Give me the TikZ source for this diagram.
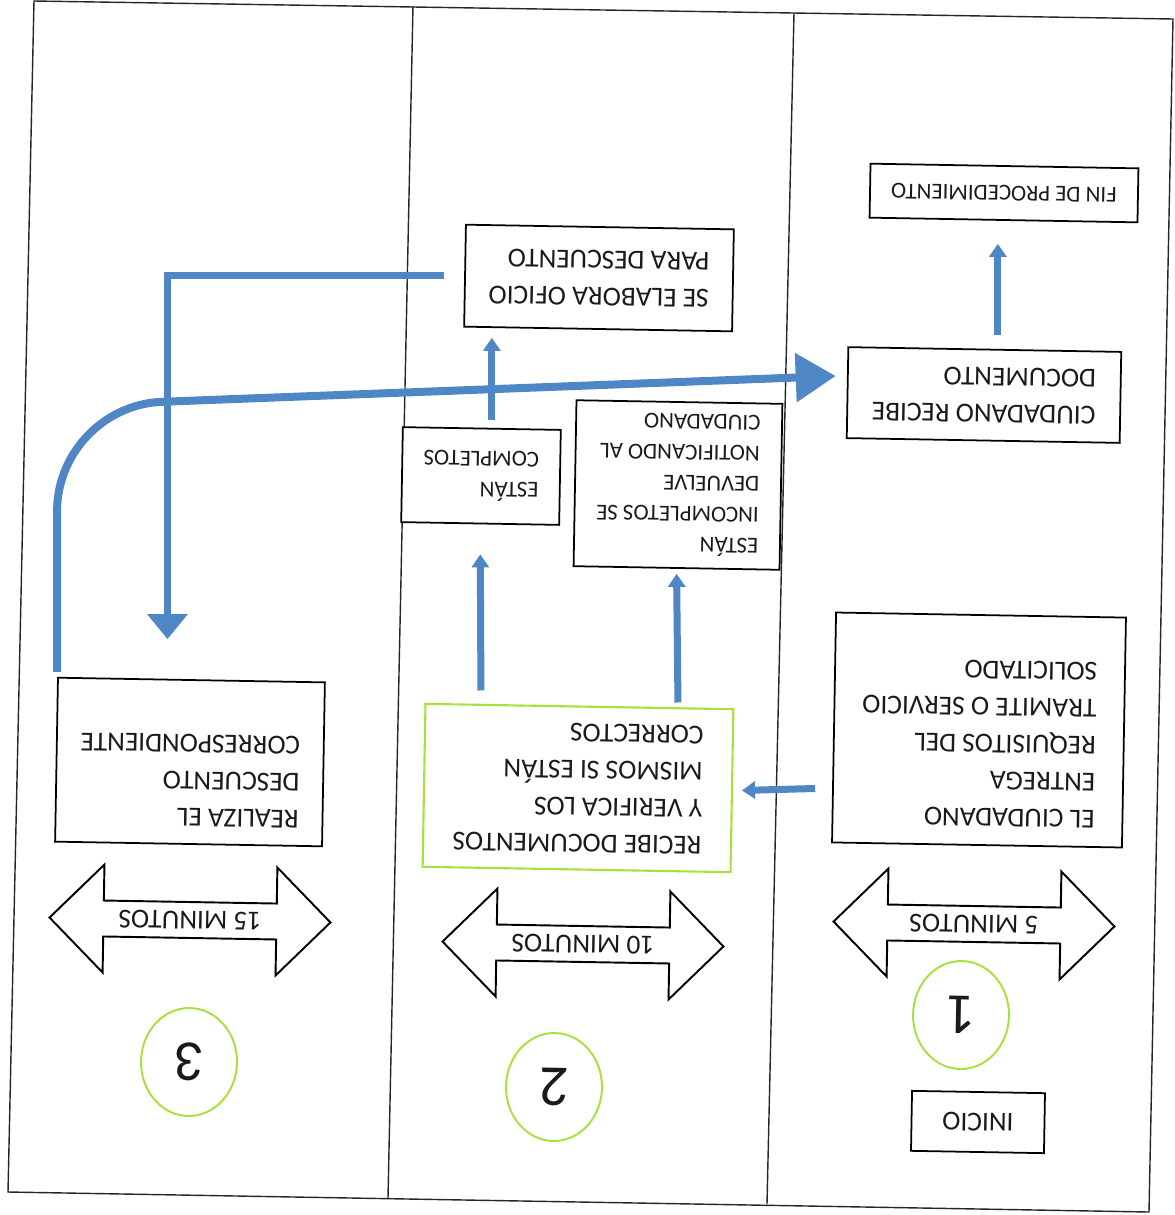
\documentclass[tikz,border=0pt]{standalone}
\usepackage{fontspec}
\setmainfont{Carlito}
\usepackage{tikz}
\usetikzlibrary{shapes.geometric, shapes.arrows, arrows.meta, positioning, calc}
\definecolor{flowblue}{HTML}{4F86C6}
\definecolor{stepgreen}{HTML}{A8E03C}
\definecolor{inkgray}{HTML}{1A1A1A}
\tikzstyle{lane} = [draw=black!85, line width=0.8pt]
\tikzstyle{procbox} = [rectangle, draw=black, fill=white, line width=1pt, rotate=179, align=left,
  inner xsep=0.3cm, font=\fontsize{15.6}{21}\selectfont, text=inkgray]
\tikzstyle{smallbox} = [procbox, font=\fontsize{13}{17.5}\selectfont]
\tikzstyle{timearrow} = [double arrow, draw=black, fill=white, line width=1.1pt, rotate=179,
  double arrow head extend=0.54cm, minimum height=5.62cm, minimum width=2.16cm,
  font=\fontsize{15.6}{19}\selectfont, text=inkgray, inner sep=2pt]
\tikzstyle{stepcircle} = [ellipse, draw=stepgreen, line width=1.1pt, rotate=179,
  minimum width=1.92cm, minimum height=2.16cm, font=\fontsize{33}{36}\selectfont, text=inkgray]
\tikzstyle{flow} = [draw=flowblue, line width=0.14cm, -{Triangle[length=0.26cm, width=0.34cm]}]
\tikzstyle{bigflow} = [draw=flowblue, line width=0.16cm, -{Triangle[length=0.8cm, width=0.95cm]}]
\tikzstyle{dropflow} = [draw=flowblue, line width=0.15cm, -{Triangle[length=0.5cm, width=0.78cm]}]

\begin{document}
\begin{tikzpicture}[x=0.02cm, y=-0.02cm]
  \useasboundingbox (0,0) rectangle (1175,1215);

  % three lanes, scanned slightly askew
  \draw[lane] (34,1) -- (1173,19) -- (1149,1212) -- (8,1192) -- cycle;
  \draw[lane] (413,6) -- (388,1198);
  \draw[lane] (794,13) -- (767,1204);

  % lane 1
  \node (entrega) [procbox, minimum width=5.8cm, minimum height=4.6cm] at (979,730)
    {EL CIUDADANO\\ENTREGA\\REQUISITOS DEL\\TRAMITE O SERVICIO\\SOLICITADO\\[-0.2cm]\mbox{}};
  \node (docrecibe) [procbox, minimum width=5.46cm, minimum height=1.82cm] at (984,395)
    {CIUDADANO RECIBE\\DOCUMENTO};
  \node (fin) [procbox, minimum width=5.36cm, minimum height=1.08cm, align=center,
    font=\fontsize{13}{16}\selectfont] at (1004,193) {FIN DE PROCEDIMIENTO};
  \node (inicio) [procbox, minimum width=2.66cm, minimum height=1.2cm] at (978,1122) {INICIO};
  \node (min5) [timearrow] at (974,924) {5 MINUTOS};
  \node (step1) [stepcircle] at (961,1015) {1};

  % lane 2
  \node (recibe) [procbox, draw=stepgreen, line width=1.2pt, minimum width=6.16cm, minimum height=3.26cm]
    at (578,788) {RECIBE DOCUMENTOS\\Y VERIFICA LOS\\MISMOS SI ESTÁN\\CORRECTOS};
  \node (completos) [smallbox, minimum width=3.16cm, minimum height=1.9cm] at (481,476)
    {ESTÁN\\COMPLETOS};
  \node (incompletos) [smallbox, minimum width=4.12cm, minimum height=3.32cm] at (678,485)
    {ESTÁN\\INCOMPLETOS SE\\DEVUELVE\\NOTIFICANDO AL\\CIUDADANO};
  \node (elabora) [procbox, minimum width=5.36cm, minimum height=2.04cm] at (599,278)
    {SE ELABORA OFICIO\\PARA DESCUENTO};
  \node (min10) [timearrow] at (583,944) {10 MINUTOS};
  \node (step2) [stepcircle] at (554,1087) {2};

  % lane 3
  \node (realiza) [procbox, minimum width=5.34cm, minimum height=3.28cm] at (190,762)
    {REALIZA EL\\DESCUENTO\\CORRESPONDIENTE\\\mbox{}};
  \node (min15) [timearrow] at (190,920) {15 MINUTOS};
  \node (step3) [stepcircle] at (189,1062) {3};

  % connectors
  \draw[flow, shorten <=0.36cm, shorten >=0.18cm] (entrega.east |- recibe.center) -- (recibe.west);
  \draw[flow, shorten <=0.3cm, shorten >=0.6cm] (recibe.south -| completos.center) -- (completos.north);
  \draw[flow, shorten <=0.06cm, shorten >=0.1cm] (recibe.south -| incompletos.center) -- (incompletos.north);
  \draw[flow, shorten <=0.16cm, shorten >=0.16cm] ([xshift=0.2cm]completos.south)
    -- ([xshift=0.2cm]completos.south |- elabora.north);
  \draw[dropflow, shorten <=0.4cm, shorten >=0.8cm] (elabora.east) -| ([xshift=-0.48cm]realiza.south);
  \draw[bigflow, rounded corners=2.1cm, shorten <=0.1cm, shorten >=0.22cm] (realiza.south east)
    -- ++(0,-271) -- ([yshift=0.34cm]docrecibe.east);
  \draw[flow, shorten <=0.28cm, shorten >=0.46cm] ([xshift=0.26cm]docrecibe.south)
    -- ([xshift=0.26cm]docrecibe.south |- fin.north);
\end{tikzpicture}
\end{document}
